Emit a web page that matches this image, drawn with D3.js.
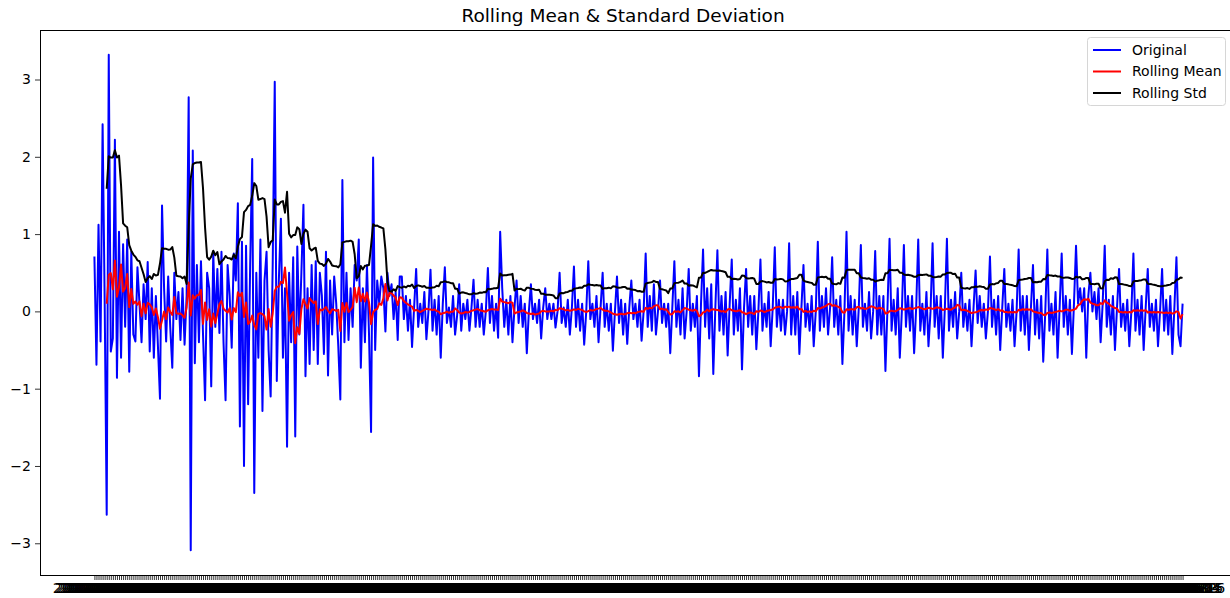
<!DOCTYPE html>
<html>
<head>
<meta charset="utf-8">
<script src="https://cdn.jsdelivr.net/npm/d3@7"></script>
<style>
  body { margin: 0; background: #fff; }
  text { font-family: "DejaVu Sans", sans-serif; fill: #000; }
</style>
</head>
<body>
<div id="chart"></div>
<script>
/* CONSTANTS AND GLOBALS */
const width = 1230,
  height = 598,
  margin = {top: 30, bottom: 23, left: 40, right: -7};

const window_size = 7;

// first day of the series, one label per day
const startDate = "2017-01-01";

// original series, volatile part first
const early = [
  0.71, -0.69, 1.12, -0.39, 2.42, 0.15, -2.63, 3.32, -0.52, -0.35,
  2.22, -0.86, 1.03, -0.60, 0.87, -0.20, 0.93, -0.78, 0.77, -0.30,
  -0.39, 0.57, 0.10, -0.40, 0.35, -0.10, 0.64, -0.52, 0.30, -0.60,
  0.20, -0.45, -1.13, 1.37, 0.30, -0.39, 0.45, -0.20, -0.73, 0.50,
  -0.10, 0.25, -0.37, 0.30, -0.43, 0.20, 2.77, -3.09, 2.08, -0.67,
  0.60, -0.40, 0.65, -0.30, -1.15, 0.50, 0.30, -0.97, 0.77, -0.20,
  0.55, -0.28, 0.77, -0.40, -1.15, 0.60, 0.20, -0.47, 0.75, 0.40,
  1.40, -1.49, 0.90, -2.00, 0.85, -1.20, 0.60, 1.97, -2.35, 0.50,
  -0.60, 0.93, -1.29, 0.40, 0.77, -0.50, -1.10, 0.60, 2.97, -0.90,
  0.40, 1.20, -0.60, 0.30, -1.75, 0.50, -0.40, 0.70, -1.62, 0.84,
  -0.30, 0.50, 1.38, -0.84, 0.30, -0.68, 0.60, -0.50, 0.65, -0.68,
  0.50, 0.20, -0.55, 0.77, -0.83, 0.40, -0.30, 0.45, 0.10, -0.45,
  -1.14, 1.70, -0.40, 0.50, -0.37, 0.30, -0.20, 0.60, 0.40, 0.93,
  -0.73, 0.30, -0.40, 0.60, -0.30, -1.56, 1.99, -0.50, 0.40, 0.10,
  0.45, 0.30, -0.26, 0.50, 0.20, 0.35, -0.10, 0.25, -0.37, 0.45
];

// calmer part, one row per week
const late = [
  0.45, -0.10, 0.20, -0.25, 0.15, -0.46, 0.05,
  0.55, -0.20, 0.10, -0.15, 0.25, -0.36, 0.00,
  0.54, -0.25, 0.15, -0.30, 0.20, -0.60, 0.10,
  0.57, -0.15, 0.05, -0.20, 0.20, -0.30, -0.05,
  0.35, -0.25, 0.10, -0.10, 0.15, -0.25, 0.05,
  0.41, -0.20, 0.15, -0.20, 0.10, -0.30, 0.00,
  0.56, -0.15, 0.20, -0.25, 0.10, -0.34, 1.03,
  0.30, -0.20, 0.15, -0.30, 0.20, -0.40, 0.05,
  0.40, -0.15, 0.20, -0.20, 0.10, -0.54, 0.00,
  0.35, -0.10, 0.10, -0.15, 0.15, -0.35, 0.05,
  0.30, -0.10, 0.10, -0.10, 0.10, -0.21, 0.00,
  0.50, -0.15, 0.05, -0.20, 0.15, -0.30, 0.05,
  0.58, -0.20, 0.15, -0.25, 0.10, -0.43, 0.00,
  0.65, -0.10, 0.10, -0.20, 0.20, -0.40, 0.05,
  0.50, -0.20, 0.10, -0.25, 0.10, -0.51, 0.00,
  0.45, -0.15, 0.15, -0.30, 0.10, -0.42, 0.05,
  0.40, -0.10, 0.10, -0.20, 0.15, -0.38, 0.00,
  0.75, -0.20, 0.20, -0.25, 0.35, -0.30, 0.00,
  0.40, -0.15, 0.10, -0.20, 0.10, -0.54, 0.05,
  0.65, -0.20, 0.15, -0.30, 0.30, -0.35, 0.00,
  0.55, -0.25, 0.10, -0.20, 0.20, -0.84, 0.10,
  0.80, -0.20, 0.30, -0.35, 0.35, -0.81, 0.05,
  0.79, -0.25, 0.20, -0.30, 0.25, -0.57, 0.10,
  0.67, -0.30, 0.15, -0.25, 0.30, -0.75, 0.05,
  0.55, -0.20, 0.20, -0.30, 0.20, -0.49, 0.00,
  0.67, -0.25, 0.10, -0.20, 0.25, -0.45, 0.05,
  0.83, -0.20, 0.15, -0.25, 0.15, -0.30, 0.00,
  0.88, -0.30, 0.20, -0.30, 0.25, -0.55, 0.05,
  0.60, -0.20, 0.10, -0.25, 0.20, -0.45, 0.00,
  0.90, -0.25, 0.20, -0.20, 0.30, -0.30, 0.05,
  0.70, -0.20, 0.15, -0.30, 0.20, -0.68, 0.00,
  1.03, -0.25, 0.20, -0.30, 0.15, -0.45, 0.05,
  0.86, -0.20, 0.10, -0.25, 0.25, -0.35, 0.00,
  0.78, -0.30, 0.20, -0.30, 0.20, -0.77, 0.05,
  0.94, -0.25, 0.15, -0.30, 0.30, -0.60, 0.00,
  0.86, -0.20, 0.20, -0.25, 0.20, -0.54, 0.05,
  0.93, -0.25, 0.10, -0.30, 0.25, -0.45, 0.00,
  0.88, -0.20, 0.20, -0.35, 0.20, -0.60, 0.05,
  0.94, -0.25, 0.15, -0.20, 0.25, -0.35, 0.00,
  0.50, -0.20, 0.10, -0.25, 0.15, -0.45, 0.05,
  0.53, -0.15, 0.20, -0.20, 0.10, -0.35, 0.00,
  0.71, -0.20, 0.15, -0.30, 0.20, -0.50, 0.05,
  0.55, -0.20, 0.10, -0.25, 0.15, -0.45, 0.00,
  0.80, -0.25, 0.20, -0.30, 0.20, -0.50, 0.05,
  0.60, -0.30, 0.15, -0.35, 0.20, -0.65, 0.00,
  0.80, -0.25, 0.10, -0.30, 0.25, -0.60, 0.05,
  0.75, -0.20, 0.20, -0.30, 0.15, -0.55, 0.10,
  0.85, 0.10, 0.30, 0.00, 0.30, -0.60, 0.20,
  0.50, 0.00, 0.25, -0.10, 0.30, -0.40, 0.10,
  0.85, -0.20, 0.15, -0.30, 0.20, -0.50, 0.05,
  0.55, -0.20, 0.10, -0.25, 0.15, -0.45, 0.00,
  0.75, -0.25, 0.15, -0.30, 0.20, -0.50, 0.05,
  0.55, -0.20, 0.10, -0.25, 0.15, -0.45, 0.00,
  0.55, -0.25, 0.15, -0.30, 0.20, -0.55, 0.05,
  0.70, -0.30, -0.45, 0.10
];

const yTicks = [-3, -2, -1, 0, 1, 2, 3];

const seriesNames = ["Original", "Rolling Mean", "Rolling Std"];
const seriesColors = ["#0000ff", "#ff0000", "#000000"];

/* BUILD DATA */
const values = early.concat(late);
const parse = d3.timeParse("%Y-%m-%d");
const fmt = d3.timeFormat("%Y-%m-%d");
const dates = values.map((v, i) => fmt(d3.timeDay.offset(parse(startDate), i)));

const original = values.map((v, i) => ({date: dates[i], value: v}));
const rolMean = [], rolStd = [];
for (let i = window_size - 1; i < values.length; i++) {
  const w = values.slice(i - window_size + 1, i + 1);
  rolMean.push({date: dates[i], value: d3.mean(w)});
  rolStd.push({date: dates[i], value: d3.deviation(w)});
}

/* SCALES */
const xScale = d3.scalePoint()
  .domain(dates)
  .range([margin.left, width - margin.right])
  .padding(0.05 * (dates.length - 1));

const ext = d3.extent(values);
const pad = 0.05 * (ext[1] - ext[0]);
const yScale = d3.scaleLinear()
  .domain([ext[0] - pad, ext[1] + pad])
  .range([height - margin.bottom, margin.top]);

const svg = d3.select("#chart")
  .append("svg")
  .attr("width", width)
  .attr("height", height);

/* AXES */
const xAxis = d3.axisBottom(xScale).tickSize(5).tickPadding(3);
const yAxis = d3.axisLeft(yScale)
  .tickValues(yTicks)
  .tickSize(5)
  .tickPadding(4)
  .tickFormat(d => d < 0 ? "\u2212" + Math.abs(d) : d);

const xAxisGroup = svg.append("g")
  .attr("transform", `translate(0, ${height - margin.bottom})`)
  .call(xAxis);
xAxisGroup.select(".domain").remove();
xAxisGroup.selectAll(".tick line").attr("stroke", "#000").attr("stroke-width", 0.8);
xAxisGroup.selectAll(".tick text").style("font-size", "14.5px");

const yAxisGroup = svg.append("g")
  .attr("transform", `translate(${margin.left}, 0)`)
  .call(yAxis);
yAxisGroup.select(".domain").remove();
yAxisGroup.selectAll(".tick line").attr("stroke", "#000").attr("stroke-width", 0.8);
yAxisGroup.selectAll(".tick text").style("font-size", "14px");

/* LINES */
const lineGen = d3.line()
  .x(d => xScale(d.date))
  .y(d => yScale(d.value));

svg.append("clipPath").attr("id", "clip")
  .append("rect")
  .attr("x", margin.left).attr("y", margin.top)
  .attr("width", width - margin.right - margin.left)
  .attr("height", height - margin.bottom - margin.top);

svg.selectAll(".line")
  .data([original, rolMean, rolStd])
  .join("path")
  .attr("class", "line")
  .attr("clip-path", "url(#clip)")
  .attr("d", lineGen)
  .attr("fill", "none")
  .attr("stroke", (d, i) => seriesColors[i])
  .attr("stroke-width", 2)
  .attr("stroke-linejoin", "round");

// frame
svg.append("rect")
  .attr("x", margin.left + 0.5)
  .attr("y", margin.top + 0.5)
  .attr("width", width - margin.right - margin.left)
  .attr("height", height - margin.bottom - margin.top)
  .attr("fill", "none")
  .attr("stroke", "#000")
  .attr("stroke-width", 1);

// title
svg.append("text")
  .attr("x", 623)
  .attr("y", 22)
  .attr("text-anchor", "middle")
  .style("font-size", "18.5px")
  .text("Rolling Mean & Standard Deviation");

/* LEGEND */
const legend = svg.append("g").attr("transform", "translate(1087, 37)");
legend.append("rect")
  .attr("x", 0.5).attr("y", 0.5)
  .attr("width", 138).attr("height", 68)
  .attr("rx", 3)
  .attr("fill", "#fff").attr("fill-opacity", 0.8)
  .attr("stroke", "#d6d6d6");

seriesNames.forEach((name, i) => {
  const y = 13 + i * 21.5;
  legend.append("line")
    .attr("x1", 6).attr("x2", 34)
    .attr("y1", y).attr("y2", y)
    .attr("stroke", seriesColors[i])
    .attr("stroke-width", 2);
  legend.append("text")
    .attr("x", 45).attr("y", y)
    .attr("dy", "0.35em")
    .style("font-size", "14px")
    .text(name);
});
</script>
</body>
</html>
